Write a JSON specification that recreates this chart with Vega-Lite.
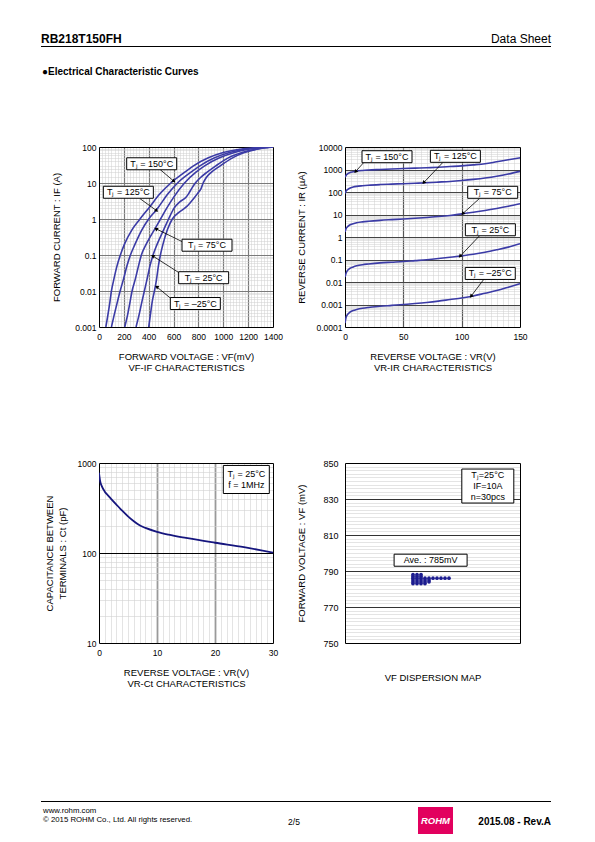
{
"$schema":"https://vega.github.io/schema/vega-lite/v6.json",
"background":"white",
"padding":{"left":40,"top":30,"right":5,"bottom":5},
"config":{
 "font":"Liberation Sans",
 "view":{"stroke":null},
 "axis":{"labelFont":"Liberation Sans","titleFont":"Liberation Sans","labelColor":"#000","titleColor":"#000","titleFontWeight":"normal","labelFontSize":8.5,"titleFontSize":9.5,"ticks":false,"domainColor":"#000","domainWidth":1,"labelFlush":false,"labelOverlap":false},
 "text":{"font":"Liberation Sans","color":"#000"}
},
"datasets":{
 "vfif":[
  {"T":"150","VF":55,"IF":0.001},{"T":"150","VF":70,"IF":0.002},{"T":"150","VF":88,"IF":0.005},{"T":"150","VF":100,"IF":0.01},{"T":"150","VF":118,"IF":0.02},{"T":"150","VF":145,"IF":0.05},{"T":"150","VF":172,"IF":0.1},{"T":"150","VF":205,"IF":0.2},{"T":"150","VF":265,"IF":0.5},{"T":"150","VF":330,"IF":1},{"T":"150","VF":400,"IF":2},{"T":"150","VF":490,"IF":5},{"T":"150","VF":578,"IF":10},{"T":"150","VF":690,"IF":20},{"T":"150","VF":760,"IF":30},{"T":"150","VF":880,"IF":50},{"T":"150","VF":1000,"IF":70},{"T":"150","VF":1120,"IF":85},{"T":"150","VF":1250,"IF":95},{"T":"150","VF":1380,"IF":100},
  {"T":"125","VF":100,"IF":0.001},{"T":"125","VF":120,"IF":0.002},{"T":"125","VF":148,"IF":0.005},{"T":"125","VF":170,"IF":0.01},{"T":"125","VF":195,"IF":0.02},{"T":"125","VF":225,"IF":0.05},{"T":"125","VF":253,"IF":0.1},{"T":"125","VF":290,"IF":0.2},{"T":"125","VF":345,"IF":0.5},{"T":"125","VF":400,"IF":1},{"T":"125","VF":456,"IF":1.7},{"T":"125","VF":472,"IF":2},{"T":"125","VF":555,"IF":5},{"T":"125","VF":632,"IF":10},{"T":"125","VF":740,"IF":20},{"T":"125","VF":812,"IF":30},{"T":"125","VF":930,"IF":50},{"T":"125","VF":1050,"IF":70},{"T":"125","VF":1160,"IF":85},{"T":"125","VF":1280,"IF":95},{"T":"125","VF":1400,"IF":100},
  {"T":"75","VF":207,"IF":0.001},{"T":"75","VF":228,"IF":0.002},{"T":"75","VF":250,"IF":0.005},{"T":"75","VF":266,"IF":0.01},{"T":"75","VF":290,"IF":0.02},{"T":"75","VF":318,"IF":0.05},{"T":"75","VF":341,"IF":0.1},{"T":"75","VF":380,"IF":0.2},{"T":"75","VF":445,"IF":0.5},{"T":"75","VF":495,"IF":1},{"T":"75","VF":545,"IF":2},{"T":"75","VF":600,"IF":4},{"T":"75","VF":688,"IF":10},{"T":"75","VF":780,"IF":20},{"T":"75","VF":850,"IF":30},{"T":"75","VF":970,"IF":50},{"T":"75","VF":1090,"IF":70},{"T":"75","VF":1190,"IF":85},{"T":"75","VF":1300,"IF":95},{"T":"75","VF":1400,"IF":100},
  {"T":"25","VF":298,"IF":0.001},{"T":"25","VF":320,"IF":0.002},{"T":"25","VF":345,"IF":0.005},{"T":"25","VF":365,"IF":0.01},{"T":"25","VF":385,"IF":0.02},{"T":"25","VF":410,"IF":0.05},{"T":"25","VF":435,"IF":0.1},{"T":"25","VF":468,"IF":0.2},{"T":"25","VF":520,"IF":0.5},{"T":"25","VF":560,"IF":1},{"T":"25","VF":604,"IF":2},{"T":"25","VF":650,"IF":3},{"T":"25","VF":700,"IF":4},{"T":"25","VF":720,"IF":5},{"T":"25","VF":745,"IF":7},{"T":"25","VF":775,"IF":10},{"T":"25","VF":815,"IF":14},{"T":"25","VF":870,"IF":20},{"T":"25","VF":940,"IF":30},{"T":"25","VF":1040,"IF":50},{"T":"25","VF":1150,"IF":70},{"T":"25","VF":1250,"IF":85},{"T":"25","VF":1330,"IF":95},{"T":"25","VF":1400,"IF":100},
  {"T":"-25","VF":400,"IF":0.001},{"T":"-25","VF":412,"IF":0.002},{"T":"-25","VF":428,"IF":0.005},{"T":"-25","VF":446,"IF":0.01},{"T":"-25","VF":462,"IF":0.02},{"T":"-25","VF":478,"IF":0.05},{"T":"-25","VF":494,"IF":0.1},{"T":"-25","VF":515,"IF":0.2},{"T":"-25","VF":550,"IF":0.5},{"T":"-25","VF":590,"IF":1},{"T":"-25","VF":640,"IF":1.5},{"T":"-25","VF":690,"IF":2},{"T":"-25","VF":720,"IF":2.5},{"T":"-25","VF":740,"IF":3},{"T":"-25","VF":770,"IF":4},{"T":"-25","VF":800,"IF":5.5},{"T":"-25","VF":818,"IF":6.6},{"T":"-25","VF":838,"IF":10},{"T":"-25","VF":862,"IF":14},{"T":"-25","VF":905,"IF":20},{"T":"-25","VF":975,"IF":30},{"T":"-25","VF":1075,"IF":50},{"T":"-25","VF":1170,"IF":70},{"T":"-25","VF":1260,"IF":85},{"T":"-25","VF":1330,"IF":95},{"T":"-25","VF":1400,"IF":100}
 ],
 "vfif_notes":[
  {"T":"150","label":"Tⱼ = 150°C","lx":424,"ly":34.2,"ax":491,"ay":23.8,"tx":603,"ty":11.2},
  {"T":"125","label":"Tⱼ = 125°C","lx":236,"ly":5.53,"ax":330,"ay":3.68,"tx":464,"ty":1.7},
  {"T":"75","label":"Tⱼ = 75°C","lx":869,"ly":0.187,"ax":678,"ay":0.227,"tx":458,"ty":0.535},
  {"T":"25","label":"Tⱼ = 25°C","lx":842,"ly":0.0234,"ax":652,"ay":0.0309,"tx":432,"ty":0.0942},
  {"T":"-25","label":"Tⱼ = –25°C","lx":775,"ly":0.00449,"ax":585,"ay":0.00593,"tx":464,"ty":0.0131}
 ],
 "vrir":[
  {"T":"150","VR":0,"IR":450},{"T":"150","VR":1,"IR":560},{"T":"150","VR":2,"IR":630},{"T":"150","VR":4,"IR":720},{"T":"150","VR":7,"IR":790},{"T":"150","VR":10,"IR":850},{"T":"150","VR":15,"IR":910},{"T":"150","VR":20,"IR":950},{"T":"150","VR":30,"IR":1000},{"T":"150","VR":40,"IR":1050},{"T":"150","VR":50,"IR":1100},{"T":"150","VR":60,"IR":1150},{"T":"150","VR":70,"IR":1200},{"T":"150","VR":80,"IR":1260},{"T":"150","VR":90,"IR":1350},{"T":"150","VR":100,"IR":1450},{"T":"150","VR":110,"IR":1600},{"T":"150","VR":120,"IR":1800},{"T":"150","VR":130,"IR":2200},{"T":"150","VR":140,"IR":2700},{"T":"150","VR":150,"IR":3300},
  {"T":"125","VR":0,"IR":85},{"T":"125","VR":1,"IR":112},{"T":"125","VR":2,"IR":126},{"T":"125","VR":4,"IR":148},{"T":"125","VR":7,"IR":166},{"T":"125","VR":10,"IR":178},{"T":"125","VR":15,"IR":190},{"T":"125","VR":20,"IR":200},{"T":"125","VR":30,"IR":214},{"T":"125","VR":40,"IR":224},{"T":"125","VR":50,"IR":234},{"T":"125","VR":60,"IR":245},{"T":"125","VR":70,"IR":257},{"T":"125","VR":80,"IR":275},{"T":"125","VR":90,"IR":295},{"T":"125","VR":100,"IR":324},{"T":"125","VR":110,"IR":363},{"T":"125","VR":120,"IR":417},{"T":"125","VR":130,"IR":500},{"T":"125","VR":140,"IR":630},{"T":"125","VR":150,"IR":830},
  {"T":"75","VR":0,"IR":1.66},{"T":"75","VR":1,"IR":2.4},{"T":"75","VR":2,"IR":2.8},{"T":"75","VR":4,"IR":3.4},{"T":"75","VR":7,"IR":3.9},{"T":"75","VR":10,"IR":4.3},{"T":"75","VR":15,"IR":4.7},{"T":"75","VR":20,"IR":5.0},{"T":"75","VR":30,"IR":5.5},{"T":"75","VR":40,"IR":5.9},{"T":"75","VR":50,"IR":6.3},{"T":"75","VR":60,"IR":6.8},{"T":"75","VR":70,"IR":7.4},{"T":"75","VR":80,"IR":8.1},{"T":"75","VR":90,"IR":9.1},{"T":"75","VR":100,"IR":10.7},{"T":"75","VR":110,"IR":12.6},{"T":"75","VR":120,"IR":15.1},{"T":"75","VR":130,"IR":18.6},{"T":"75","VR":140,"IR":23.4},{"T":"75","VR":150,"IR":30.2},
  {"T":"25","VR":0,"IR":0.0166},{"T":"25","VR":1,"IR":0.0251},{"T":"25","VR":2,"IR":0.0316},{"T":"25","VR":4,"IR":0.0398},{"T":"25","VR":7,"IR":0.0468},{"T":"25","VR":10,"IR":0.0525},{"T":"25","VR":15,"IR":0.0589},{"T":"25","VR":20,"IR":0.0631},{"T":"25","VR":30,"IR":0.0708},{"T":"25","VR":40,"IR":0.0759},{"T":"25","VR":50,"IR":0.0813},{"T":"25","VR":60,"IR":0.0891},{"T":"25","VR":70,"IR":0.0977},{"T":"25","VR":80,"IR":0.11},{"T":"25","VR":90,"IR":0.126},{"T":"25","VR":100,"IR":0.145},{"T":"25","VR":110,"IR":0.17},{"T":"25","VR":120,"IR":0.209},{"T":"25","VR":130,"IR":0.269},{"T":"25","VR":140,"IR":0.355},{"T":"25","VR":150,"IR":0.501},
  {"T":"-25","VR":0,"IR":0.00015},{"T":"-25","VR":1,"IR":0.00028},{"T":"-25","VR":2,"IR":0.00035},{"T":"-25","VR":4,"IR":0.00045},{"T":"-25","VR":7,"IR":0.00054},{"T":"-25","VR":10,"IR":0.0006},{"T":"-25","VR":15,"IR":0.00068},{"T":"-25","VR":20,"IR":0.00074},{"T":"-25","VR":30,"IR":0.00083},{"T":"-25","VR":40,"IR":0.00091},{"T":"-25","VR":50,"IR":0.001},{"T":"-25","VR":60,"IR":0.0011},{"T":"-25","VR":70,"IR":0.00123},{"T":"-25","VR":80,"IR":0.00141},{"T":"-25","VR":90,"IR":0.00166},{"T":"-25","VR":100,"IR":0.00195},{"T":"-25","VR":110,"IR":0.0024},{"T":"-25","VR":120,"IR":0.00316},{"T":"-25","VR":130,"IR":0.00417},{"T":"-25","VR":140,"IR":0.00589},{"T":"-25","VR":150,"IR":0.0085}
 ],
 "vrir_notes":[
  {"T":"150","label":"Tⱼ = 150°C","lx":36,"ly":3700,"ax":15.7,"ay":1945,"tx":9,"ty":800},
  {"T":"125","label":"Tⱼ = 125°C","lx":94.6,"ly":3850,"ax":83.7,"ay":2014,"tx":67.4,"ty":260},
  {"T":"75","label":"Tⱼ = 75°C","lx":126.6,"ly":97,"ax":115.1,"ay":50.6,"tx":100.9,"ty":10.9},
  {"T":"25","label":"Tⱼ = 25°C","lx":124.6,"ly":2.1,"ax":115.1,"ay":1.107,"tx":98.6,"ty":0.138},
  {"T":"-25","label":"Tⱼ = –25°C","lx":124.5,"ly":0.024,"ax":119.4,"ay":0.01406,"tx":108,"ty":0.00231}
 ],
 "vrct":[
  {"VR":0,"Ct":780},{"VR":0.2,"Ct":630},{"VR":0.5,"Ct":550},{"VR":1,"Ct":480},{"VR":1.5,"Ct":440},{"VR":2,"Ct":405},{"VR":3,"Ct":345},{"VR":4,"Ct":295},{"VR":5,"Ct":255},{"VR":6,"Ct":225},{"VR":7,"Ct":203},{"VR":8,"Ct":190},{"VR":10,"Ct":172},{"VR":12,"Ct":160},{"VR":15,"Ct":147},{"VR":20,"Ct":130},{"VR":25,"Ct":116},{"VR":30,"Ct":101}
 ],
 "vrct_note":[{"label":"Tⱼ = 25°C\nf = 1MHz","VR":25.4,"Ct":656}],
 "disp":[
  {"VF":788,"idx":1},{"VF":788,"idx":2},{"VF":788,"idx":3},
  {"VF":787,"idx":1},{"VF":787,"idx":2},{"VF":787,"idx":3},
  {"VF":786,"idx":1},{"VF":786,"idx":2},{"VF":786,"idx":3},{"VF":786,"idx":4},{"VF":786,"idx":5},{"VF":786,"idx":6},{"VF":786,"idx":7},{"VF":786,"idx":8},{"VF":786,"idx":9},{"VF":786,"idx":10},
  {"VF":785,"idx":1},{"VF":785,"idx":2},{"VF":785,"idx":3},{"VF":785,"idx":4},{"VF":785,"idx":5},
  {"VF":784,"idx":1},{"VF":784,"idx":2},{"VF":784,"idx":3},{"VF":784,"idx":4},{"VF":784,"idx":5},
  {"VF":783,"idx":1},{"VF":783,"idx":2},{"VF":783,"idx":3},{"VF":783,"idx":4}
 ],
 "disp_notes":[
  {"kind":"ave","label":"Ave. : 785mV","X":5.4,"VF":796},
  {"kind":"cond","label":"Tⱼ=25°C\nIF=10A\nn=30pcs","X":19.7,"VF":837.2}
 ]
},
"columns":2,
"spacing":{"row":136,"column":72},
"bounds":"flush",
"concat":[
 {
  "width":174,"height":180,
  "layer":[
   {"data":{"name":"vfif"},
    "mark":{"type":"line","interpolate":"monotone","color":"#3b3ba6","strokeWidth":1.6,"clip":true},
    "encoding":{
     "x":{"field":"VF","type":"quantitative","scale":{"domain":[0,1400],"nice":false,"zero":false},
          "axis":{"orient":"top","values":[25,50,75,100,125,150,175,225,250,275,300,325,350,375,425,450,475,500,525,550,575,625,650,675,700,725,750,775,825,850,875,900,925,950,975,1025,1050,1075,1100,1125,1150,1175,1225,1250,1275,1300,1325,1350,1375],"grid":true,"gridColor":"#cfcfcf","gridWidth":0.5,"labels":false,"ticks":false,"domain":true,"title":null}},
     "y":{"field":"IF","type":"quantitative","scale":{"type":"log","domain":[0.001,100],"nice":false},
          "axis":{"orient":"right","values":[0.0015,0.002,0.0025,0.003,0.004,0.005,0.006,0.007,0.008,0.009,0.015,0.02,0.025,0.03,0.04,0.05,0.06,0.07,0.08,0.09,0.15,0.2,0.25,0.3,0.4,0.5,0.6,0.7,0.8,0.9,1.5,2,2.5,3,4,5,6,7,8,9,15,20,25,30,40,50,60,70,80,90],"grid":true,"gridColor":"#cfcfcf","gridWidth":0.5,"labels":false,"ticks":false,"domain":true,"title":null}},
     "detail":{"field":"T","type":"nominal"}
    }},
   {"data":{"name":"vfif_notes"},
    "mark":{"type":"rule","color":"#000","strokeWidth":0.8},
    "encoding":{
     "x":{"field":"ax","type":"quantitative","scale":{"domain":[0,1400],"nice":false,"zero":false},
          "axis":{"orient":"bottom","values":[0,200,400,600,800,1000,1200,1400],"format":"d","grid":true,"gridColor":"#7a7a7a","gridWidth":1.2,"gridOpacity":{"condition":{"test":"datum.value <= 0 || datum.value >= 1400","value":0},"value":1},"labelPadding":5,"domain":true,"title":["FORWARD VOLTAGE : VF(mV)","VF-IF CHARACTERISTICS"],"titlePadding":11,"titleLineHeight":11}},
     "y":{"field":"ay","type":"quantitative","scale":{"type":"log","domain":[0.001,100],"nice":false},
          "axis":{"orient":"left","values":[0.001,0.01,0.1,1,10,100],"format":"~g","grid":true,"gridColor":"#7a7a7a","gridWidth":1.2,"gridOpacity":{"condition":{"test":"datum.value <= 0.0011 || datum.value >= 99","value":0},"value":1},"labelPadding":3,"domain":true,"title":"FORWARD CURRENT : IF (A)","titlePadding":13}},
     "x2":{"field":"tx"},"y2":{"field":"ty"}
    }},
   {"data":{"name":"vfif_notes"},"transform":[{"filter":"datum.T === '150' || datum.T === '125'"}],
    "mark":{"type":"point","shape":"triangle-right","filled":true,"color":"#000","opacity":1,"size":18,"angle":38},
    "encoding":{"x":{"field":"tx","type":"quantitative","axis":null},"y":{"field":"ty","type":"quantitative","axis":null}}},
   {"data":{"name":"vfif_notes"},"transform":[{"filter":"datum.T !== '150' && datum.T !== '125'"}],
    "mark":{"type":"point","shape":"triangle-right","filled":true,"color":"#000","opacity":1,"size":18,"angle":212},
    "encoding":{"x":{"field":"tx","type":"quantitative","axis":null},"y":{"field":"ty","type":"quantitative","axis":null}}},
   {"data":{"name":"vfif_notes"},
    "mark":{"type":"point","shape":"M-1,-0.24H1V0.24H-1Z","filled":true,"fill":"#fff","stroke":"#000","strokeWidth":1,"opacity":1,"size":2500},
    "encoding":{"x":{"field":"lx","type":"quantitative","axis":null},"y":{"field":"ly","type":"quantitative","axis":null}}},
   {"data":{"name":"vfif_notes"},
    "mark":{"type":"text","fontSize":9,"align":"center","baseline":"middle"},
    "encoding":{"x":{"field":"lx","type":"quantitative","axis":null},"y":{"field":"ly","type":"quantitative","axis":null},"text":{"field":"label"}}},
   {"data":{"values":[{}]},
    "layer":[
     {"mark":{"type":"rule","opacity":0,"strokeWidth":0.1},"encoding":{"x":{"value":-58},"x2":{"value":-57},"y":{"value":-117},"y2":{"value":-117}}},
     {"mark":{"type":"text","text":"RB218T150FH","align":"left","baseline":"alphabetic","fontSize":12,"fontWeight":"bold"},"encoding":{"x":{"value":-58},"y":{"value":-104}}},
     {"mark":{"type":"text","text":"Data Sheet","align":"right","baseline":"alphabetic","fontSize":12},"encoding":{"x":{"value":452},"y":{"value":-104}}},
     {"mark":{"type":"rule","color":"#000","strokeWidth":1},"encoding":{"x":{"value":-58},"x2":{"value":452},"y":{"value":-100.5}}},
     {"mark":{"type":"text","text":"●Electrical Characteristic Curves","align":"left","baseline":"alphabetic","fontSize":10,"fontWeight":"bold"},"encoding":{"x":{"value":-57},"y":{"value":-72}}}
    ]}
  ],
  "resolve":{"axis":{"x":"independent","y":"independent"}}
 },
 {
  "width":175,"height":180,
  "layer":[
   {"data":{"name":"vrir"},
    "mark":{"type":"line","interpolate":"monotone","color":"#3b3ba6","strokeWidth":1.6,"clip":true},
    "encoding":{
     "x":{"field":"VR","type":"quantitative","scale":{"domain":[0,150],"nice":false,"zero":false},
          "axis":{"orient":"top","values":[5,10,15,20,25,30,35,40,45,55,60,65,70,75,80,85,90,95,105,110,115,120,125,130,135,140,145],"grid":true,"gridColor":"#cfcfcf","gridWidth":0.5,"labels":false,"ticks":false,"domain":true,"title":null}},
     "y":{"field":"IR","type":"quantitative","scale":{"type":"log","domain":[0.0001,10000],"nice":false},
          "axis":{"orient":"right","values":[0.0002,0.0003,0.0004,0.0005,0.0006,0.0007,0.0008,0.0009,0.002,0.003,0.004,0.005,0.006,0.007,0.008,0.009,0.02,0.03,0.04,0.05,0.06,0.07,0.08,0.09,0.2,0.3,0.4,0.5,0.6,0.7,0.8,0.9,2,3,4,5,6,7,8,9,20,30,40,50,60,70,80,90,200,300,400,500,600,700,800,900,2000,3000,4000,5000,6000,7000,8000,9000],"grid":true,"gridColor":"#cfcfcf","gridWidth":0.5,"labels":false,"ticks":false,"domain":true,"title":null}},
     "detail":{"field":"T","type":"nominal"}
    }},
   {"data":{"name":"vrir_notes"},
    "mark":{"type":"rule","color":"#000","strokeWidth":0.8},
    "encoding":{
     "x":{"field":"ax","type":"quantitative","scale":{"domain":[0,150],"nice":false,"zero":false},
          "axis":{"orient":"bottom","values":[0,50,100,150],"format":"d","grid":true,"gridColor":"#555","gridWidth":1.2,"gridOpacity":{"condition":{"test":"datum.value <= 0 || datum.value >= 150","value":0},"value":1},"labelPadding":5,"domain":true,"title":["REVERSE VOLTAGE : VR(V)","VR-IR CHARACTERISTICS"],"titlePadding":11,"titleLineHeight":11}},
     "y":{"field":"ay","type":"quantitative","scale":{"type":"log","domain":[0.0001,10000],"nice":false},
          "axis":{"orient":"left","values":[0.0001,0.001,0.01,0.1,1,10,100,1000,10000],"format":"~g","grid":true,"gridColor":"#444","gridWidth":1.1,"gridOpacity":{"condition":{"test":"datum.value <= 0.00011 || datum.value >= 9999","value":0},"value":1},"labelPadding":3,"domain":true,"title":"REVERSE CURRENT : IR (µA)","titlePadding":10}},
     "x2":{"field":"tx"},"y2":{"field":"ty"}
    }},
   {"data":{"name":"vrir_notes"},
    "mark":{"type":"point","shape":"triangle-right","filled":true,"color":"#000","opacity":1,"size":18,"angle":131},
    "encoding":{"x":{"field":"tx","type":"quantitative","axis":null},"y":{"field":"ty","type":"quantitative","axis":null}}},
   {"data":{"name":"vrir_notes"},
    "mark":{"type":"point","shape":"M-1,-0.24H1V0.24H-1Z","filled":true,"fill":"#fff","stroke":"#000","strokeWidth":1,"opacity":1,"size":2500},
    "encoding":{"x":{"field":"lx","type":"quantitative","axis":null},"y":{"field":"ly","type":"quantitative","axis":null}}},
   {"data":{"name":"vrir_notes"},
    "mark":{"type":"text","fontSize":9,"align":"center","baseline":"middle"},
    "encoding":{"x":{"field":"lx","type":"quantitative","axis":null},"y":{"field":"ly","type":"quantitative","axis":null},"text":{"field":"label"}}}
  ],
  "resolve":{"axis":{"x":"independent","y":"independent"}}
 },
 {
  "width":174,"height":180,
  "layer":[
   {"data":{"name":"vrct"},
    "mark":{"type":"line","interpolate":"monotone","color":"#16167e","strokeWidth":1.8,"clip":true},
    "encoding":{
     "x":{"field":"VR","type":"quantitative","scale":{"domain":[0,30],"nice":false,"zero":false},
          "axis":{"orient":"top","values":[1,2,3,4,5,6,7,8,9,11,12,13,14,15,16,17,18,19,21,22,23,24,25,26,27,28,29],"grid":true,"gridColor":"#d2d2d2","gridWidth":0.6,"labels":false,"ticks":false,"domain":true,"title":null}},
     "y":{"field":"Ct","type":"quantitative","scale":{"type":"log","domain":[10,1000],"nice":false},
          "axis":{"orient":"right","values":[20,30,40,50,60,70,80,90,200,300,400,500,600,700,800,900],"grid":true,"gridColor":"#d2d2d2","gridWidth":0.6,"labels":false,"ticks":false,"domain":true,"title":null}}
    }},
   {"data":{"name":"vrct_note"},
    "mark":{"type":"point","shape":"M-1,-0.61H1V0.61H-1Z","filled":true,"fill":"#fff","stroke":"#000","strokeWidth":1,"opacity":1,"size":2116},
    "encoding":{
     "x":{"field":"VR","type":"quantitative","scale":{"domain":[0,30],"nice":false,"zero":false},
          "axis":{"orient":"bottom","values":[0,10,20,30],"format":"d","grid":true,"gridColor":"#9a9a9a","gridWidth":1.8,"gridOpacity":{"condition":{"test":"datum.value <= 0 || datum.value >= 30","value":0},"value":1},"labelPadding":5,"domain":true,"title":["REVERSE VOLTAGE : VR(V)","VR-Ct CHARACTERISTICS"],"titlePadding":11,"titleLineHeight":11}},
     "y":{"field":"Ct","type":"quantitative","scale":{"type":"log","domain":[10,1000],"nice":false},
          "axis":{"orient":"left","values":[10,100,1000],"format":"~g","grid":true,"gridColor":"#000","gridWidth":1,"gridOpacity":{"condition":{"test":"datum.value <= 10 || datum.value >= 1000","value":0},"value":1},"labelPadding":3,"domain":true,"title":["CAPACITANCE BETWEEN","TERMINALS : Ct (pF)"],"titlePadding":10,"titleLineHeight":13}}
    }},
   {"data":{"name":"vrct_note"},
    "mark":{"type":"text","fontSize":9,"align":"center","baseline":"middle","lineBreak":"\n","lineHeight":10.5,"dy":-5.25},
    "encoding":{"x":{"field":"VR","type":"quantitative","axis":null},"y":{"field":"Ct","type":"quantitative","axis":null},"text":{"field":"label"}}},
   {"data":{"values":[{}]},
    "layer":[
     {"mark":{"type":"rule","color":"#000","strokeWidth":1},"encoding":{"x":{"value":-58},"x2":{"value":452},"y":{"value":338.5}}},
     {"mark":{"type":"text","text":"www.rohm.com","align":"left","baseline":"alphabetic","fontSize":7.8},"encoding":{"x":{"value":-56},"y":{"value":349.5}}},
     {"mark":{"type":"text","text":"© 2015  ROHM Co., Ltd. All rights reserved.","align":"left","baseline":"alphabetic","fontSize":7.8},"encoding":{"x":{"value":-56},"y":{"value":359}}},
     {"mark":{"type":"text","text":"2/5","align":"center","baseline":"alphabetic","fontSize":8.5},"encoding":{"x":{"value":195},"y":{"value":361.5}}},
     {"mark":{"type":"rect","color":"#e2005e"},"encoding":{"x":{"value":319},"x2":{"value":354},"y":{"value":344},"y2":{"value":371}}},
     {"mark":{"type":"text","text":"ROHM","align":"center","baseline":"middle","fontSize":9.5,"fontWeight":"bold","fontStyle":"italic","color":"#fff"},"encoding":{"x":{"value":336.5},"y":{"value":358}}},
     {"mark":{"type":"text","text":"2015.08 -  Rev.A","align":"right","baseline":"alphabetic","fontSize":10,"fontWeight":"bold"},"encoding":{"x":{"value":452},"y":{"value":361.5}}}
    ]}
  ],
  "resolve":{"axis":{"x":"independent","y":"independent"}}
 },
 {
  "width":175,"height":180,
  "layer":[
   {"data":{"name":"disp"},
    "mark":{"type":"circle","size":14,"color":"#1c1c8f","opacity":1},
    "encoding":{
     "x":{"field":"idx","type":"quantitative","scale":{"domain":[-16,27.75],"nice":false,"zero":false},
          "axis":{"orient":"top","grid":false,"labels":false,"ticks":false,"domain":true,"title":null}},
     "y":{"field":"VF","type":"quantitative","scale":{"domain":[750,850],"nice":false,"zero":false},
          "axis":{"orient":"right","values":[752,754,756,758,760,762,764,766,768,772,774,776,778,780,782,784,786,788,792,794,796,798,800,802,804,806,808,812,814,816,818,820,822,824,826,828,832,834,836,838,840,842,844,846,848],"grid":true,"gridColor":"#d2d2d2","gridWidth":0.6,"labels":false,"ticks":false,"domain":true,"title":null}}
    }},
   {"data":{"name":"disp_notes"},"transform":[{"filter":"datum.kind === 'ave'"}],
    "mark":{"type":"point","shape":"M-1,-0.165H1V0.165H-1Z","filled":true,"fill":"#fff","stroke":"#000","strokeWidth":1,"opacity":1,"size":5329},
    "encoding":{
     "x":{"field":"X","type":"quantitative","scale":{"domain":[-16,27.75],"nice":false,"zero":false},
          "axis":{"orient":"bottom","grid":false,"labels":false,"ticks":false,"domain":true,"title":"VF DISPERSION MAP","titlePadding":29}},
     "y":{"field":"VF","type":"quantitative","scale":{"domain":[750,850],"nice":false,"zero":false},
          "axis":{"orient":"left","values":[750,770,790,810,830,850],"format":"d","grid":true,"gridColor":"#333","gridWidth":1,"gridOpacity":{"condition":{"test":"datum.value <= 750 || datum.value >= 850","value":0},"value":1},"labelPadding":7,"labelFontSize":9,"domain":true,"title":"FORWARD VOLTAGE : VF (mV)","titlePadding":16}}
    }},
   {"data":{"name":"disp_notes"},"transform":[{"filter":"datum.kind === 'cond'"}],
    "mark":{"type":"point","shape":"M-1,-0.654H1V0.654H-1Z","filled":true,"fill":"#fff","stroke":"#000","strokeWidth":1,"opacity":1,"size":2704},
    "encoding":{"x":{"field":"X","type":"quantitative","axis":null},"y":{"field":"VF","type":"quantitative","axis":null}}},
   {"data":{"name":"disp_notes"},"transform":[{"filter":"datum.kind === 'ave'"}],
    "mark":{"type":"text","fontSize":9,"align":"center","baseline":"middle"},
    "encoding":{"x":{"field":"X","type":"quantitative","axis":null},"y":{"field":"VF","type":"quantitative","axis":null},"text":{"field":"label"}}},
   {"data":{"name":"disp_notes"},"transform":[{"filter":"datum.kind === 'cond'"}],
    "mark":{"type":"text","fontSize":9,"align":"center","baseline":"middle","lineBreak":"\n","lineHeight":10.7,"dy":-10.7},
    "encoding":{"x":{"field":"X","type":"quantitative","axis":null},"y":{"field":"VF","type":"quantitative","axis":null},"text":{"field":"label"}}}
  ],
  "resolve":{"axis":{"x":"independent","y":"independent"}}
 }
]
}
